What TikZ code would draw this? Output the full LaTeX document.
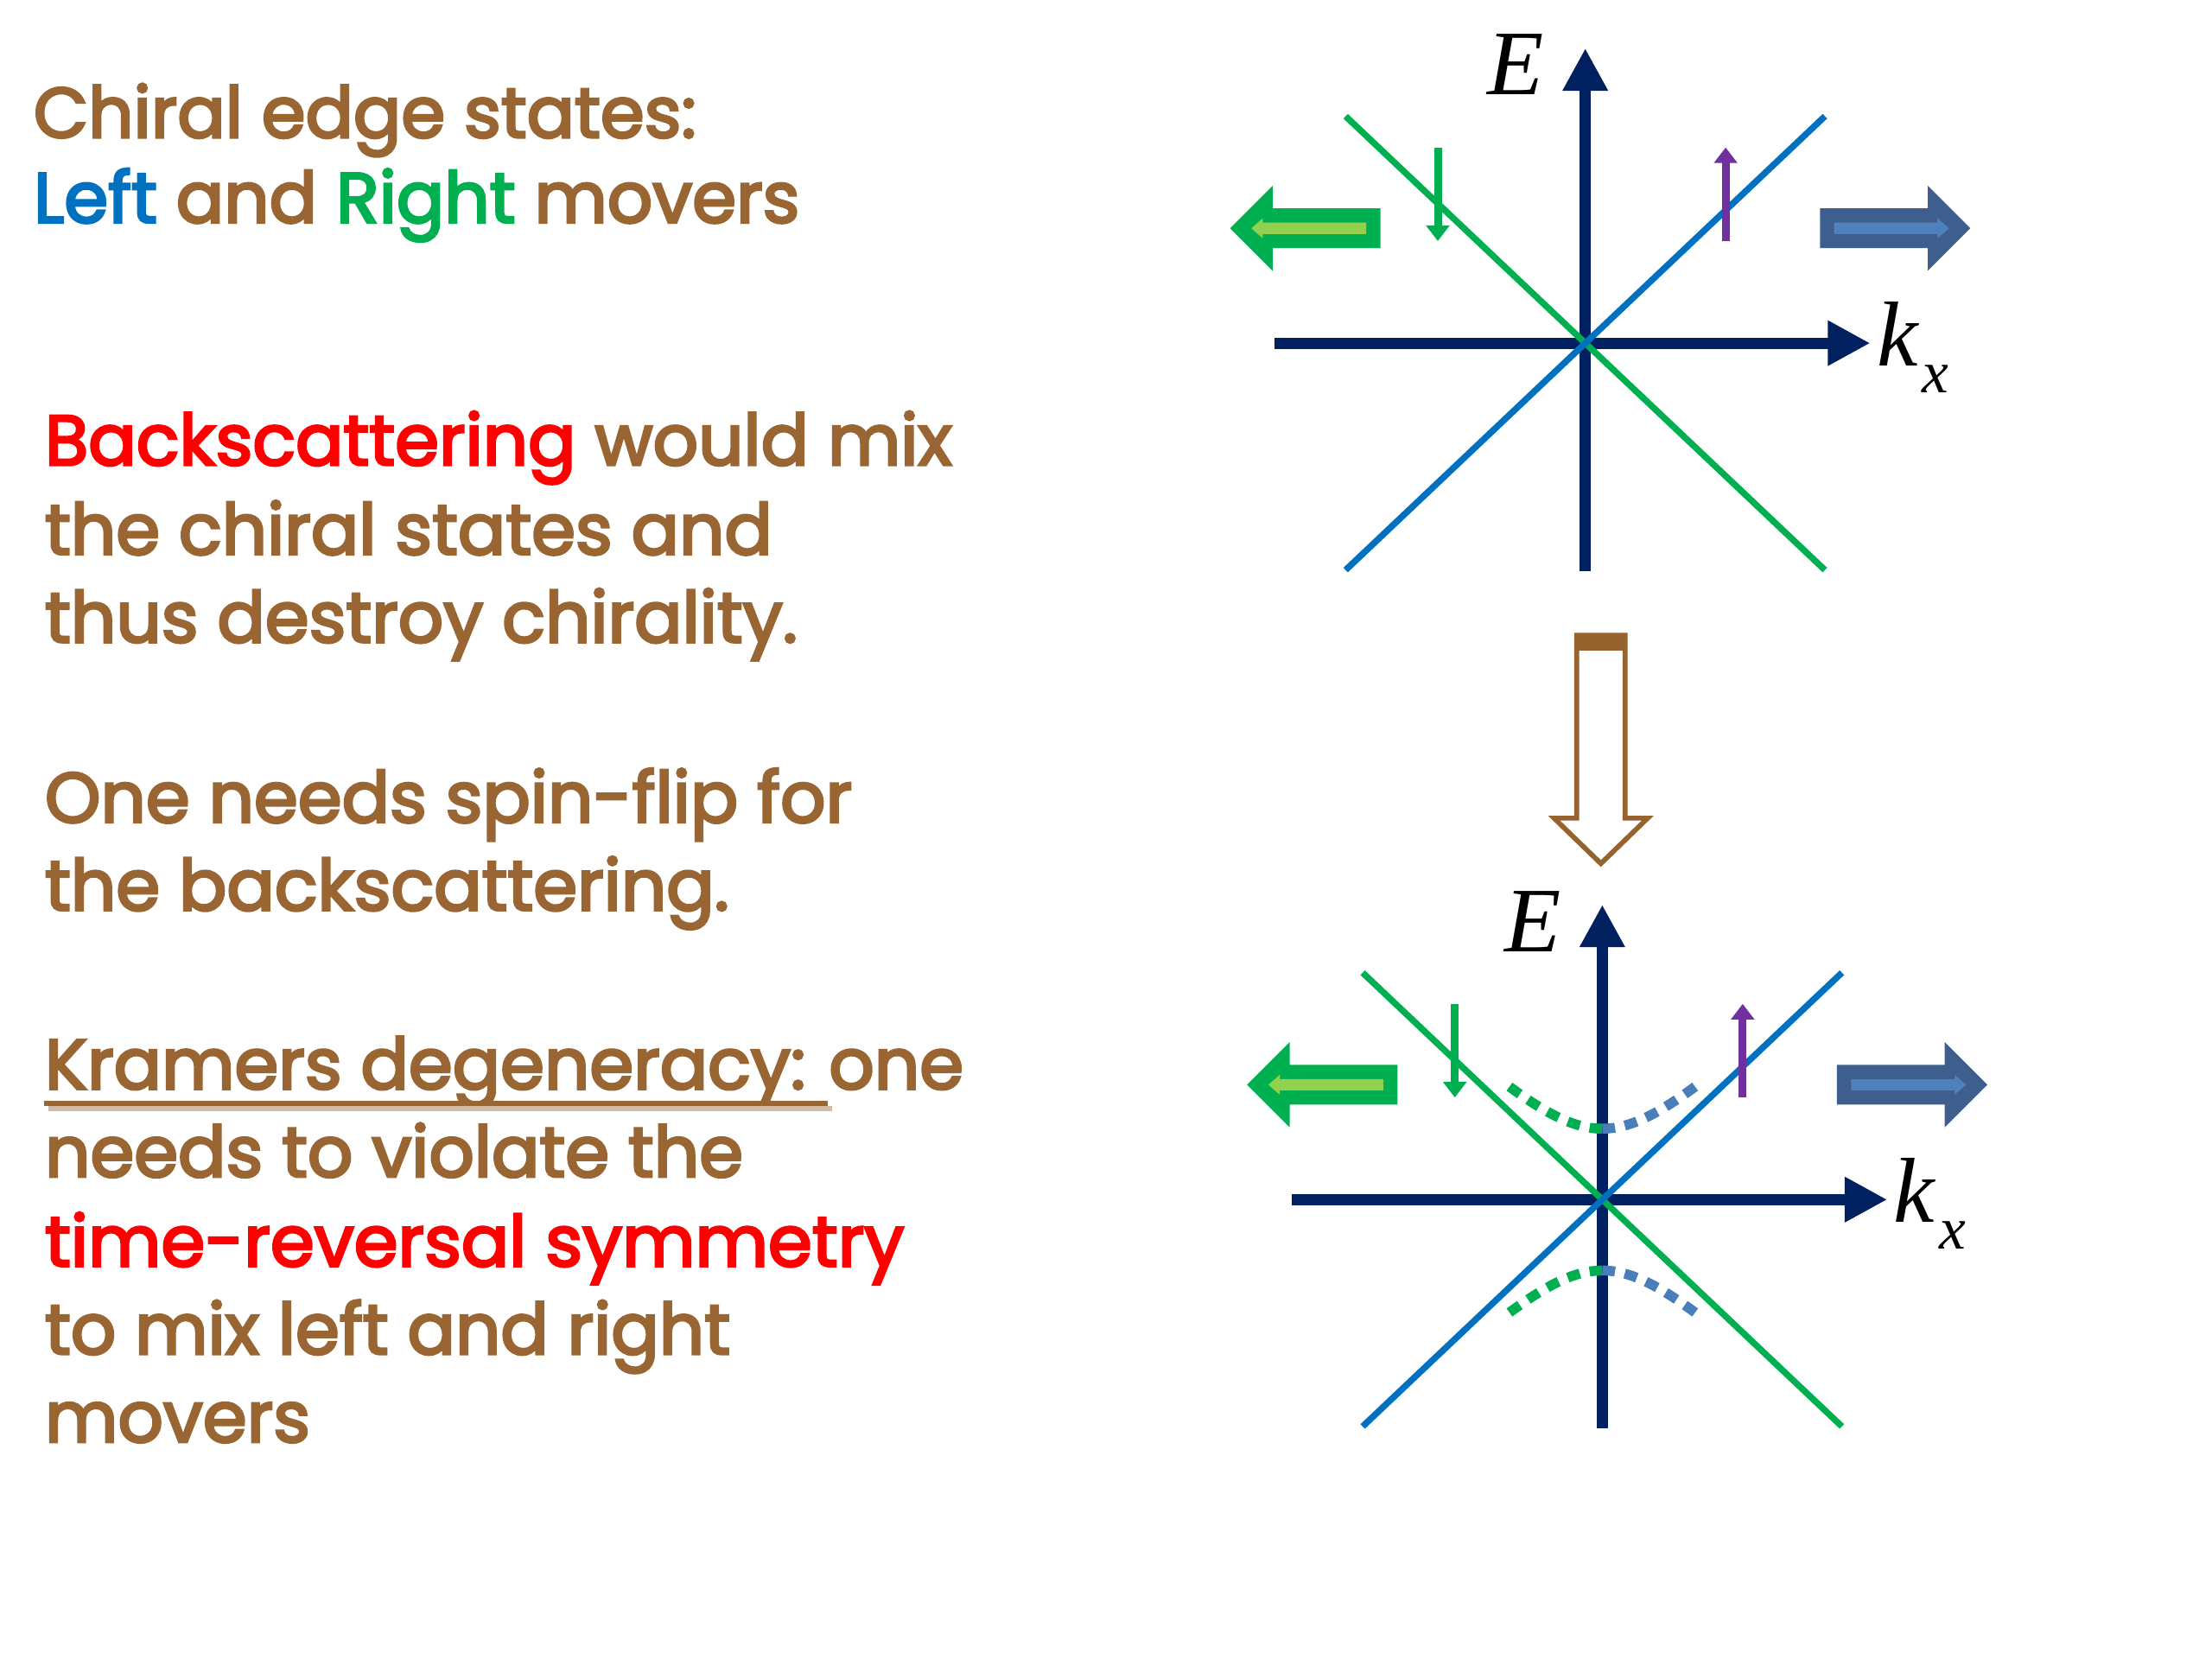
\documentclass[tikz,border=0pt]{standalone}
\usepackage{fontspec}
\setmainfont{Poppins}
\newfontfamily\txtfont{Poppins}[FakeBold=3.5]
\newfontfamily\timesfont{Liberation Serif}
\usetikzlibrary{arrows.meta}
\definecolor{txtbrown}{RGB}{153,102,51}
\definecolor{moverblue}{RGB}{0,112,192}
\definecolor{movergreen}{RGB}{0,176,80}
\definecolor{axisnavy}{RGB}{0,32,96}
\definecolor{spinpurple}{RGB}{112,48,160}
\definecolor{lightgreen}{RGB}{146,208,80}
\definecolor{arrowblue}{RGB}{62,94,142}
\definecolor{stripeblue}{RGB}{79,129,189}
\definecolor{gapblue}{RGB}{74,126,187}
\definecolor{arrowbrown}{RGB}{150,98,45}
\begin{document}
\begin{tikzpicture}[x=0.01cm,y=-0.01cm,
    txt/.style={anchor=base west,inner sep=0pt,text=txtbrown,
                font=\txtfont\fontsize{14.2}{17}\selectfont},
    lbl/.style={inner sep=0pt,font=\timesfont\itshape\fontsize{18.5}{20}\selectfont},
    axis/.style={draw=axisnavy,line width=0.08cm,-{Triangle[length=0.3cm,width=0.3cm]}},
    band/.style={line width=0.045cm},
    spin/.style={line width=0.055cm,-{Triangle[length=0.11cm,width=0.16cm]}},
    gap/.style={line width=0.07cm,dash pattern=on 0.09cm off 0.07cm},
    openarr/.style={draw=arrowbrown,fill=white,line width=0.035cm}]
  \useasboundingbox (0,0) rectangle (1560,1170);

  % text column
  \node[txt] (chiral) at (23,97) {Chiral edge states:};
  \node[txt] (lr) at (23,157) {\textcolor{moverblue}{Left} and \textcolor{movergreen}{Right} movers};
  \node[txt] (back1) at (31,328) {\textcolor{red}{Backscattering} would mix};
  \node[txt] (back2) at (31,391) {the chiral states and};
  \node[txt] (back3) at (31,453) {thus destroy chirality.};
  \node[txt] (flip1) at (31,580) {One needs spin-flip for};
  \node[txt] (flip2) at (31,642) {the backscattering.};
  \node[txt] (kramers) at (31,768) {Kramers degeneracy:\hspace*{0.3em}};
  \node[txt] (one) at (kramers.base east) {one};
  \draw[txtbrown!45,line width=0.035cm] ([xshift=0.03cm,yshift=-0.14cm]kramers.base west) -- ([xshift=0.03cm,yshift=-0.14cm]kramers.base east);
  \draw[txtbrown,line width=0.035cm] ([yshift=-0.1cm]kramers.base west) -- ([yshift=-0.1cm]kramers.base east);
  \node[txt] (tr1) at (31,830) {needs to violate the};
  \node[txt,text=red] (tr2) at (31,893) {time-reversal symmetry};
  \node[txt] (tr3) at (31,955) {to mix left and right};
  \node[txt] (tr4) at (31,1017) {movers};

  % the two dispersions
  \foreach \n/\ox/\oy in {1/1118/242,2/1130/846} {
    \begin{scope}[shift={(\ox,\oy)}]
      \coordinate (O\n) at (0,0);
      \coordinate (Eb\n) at (0,161);
      \coordinate (Et\n) at (0,-208);
      \coordinate (kl\n) at (-219,0);
      \coordinate (kr\n) at (201,0);
      \draw[axis] (Eb\n) -- (Et\n);
      \draw[axis] (kl\n) -- (kr\n);
      \draw[band,movergreen] (-169,-160) -- (169,160);
      \draw[band,moverblue] (-169,160) -- (169,-160);
      \draw[spin,movergreen] (-104,-138) -- (-104,-72);
      \draw[spin,spinpurple] (99,-72) -- (99,-138);
      \node[lbl,anchor=base] (E\n) at (-49,-175) {E};
      \node[lbl,anchor=base west] (k\n) at (205,16) {k\kern0.05em\raisebox{-0.19cm}{\fontsize{12}{12}\selectfont x}};
      \foreach \sg/\fc/\sc in {-1/movergreen/lightgreen,1/arrowblue/stripeblue} {
        \begin{scope}[xshift=0.105cm,xscale=\sg]
          \fill[\fc] (155,-95) -- (231,-95) -- (231,-111) -- (261,-81) -- (231,-51) -- (231,-67) -- (155,-67) -- cycle;
          \fill[\sc] (165,-85) -- (238,-85) -- (238,-88) -- (246,-81) -- (238,-74) -- (238,-77) -- (165,-77) -- cycle;
        \end{scope}
      }
    \end{scope}
  }

  % opened gap
  \begin{scope}[shift={(1130,846)}]
    \foreach \sg/\col in {-1/movergreen,1/gapblue} {
      \draw[gap,\col] plot[domain=0:68,samples=20] ({\sg*\x},{-sqrt((0.947*\x)^2+2500)});
      \draw[gap,\col] plot[domain=0:68,samples=20] ({\sg*\x},{sqrt((0.947*\x)^2+2500)});
    }
  \end{scope}

  % open arrow between the two
  \draw[openarr] (1112,448) -- (1112,577) -- (1096,577) -- (1129,609) -- (1162,577) -- (1146,577) -- (1146,448) -- cycle;
  \fill[arrowbrown] (1112,448) rectangle (1146,459);
\end{tikzpicture}
\end{document}
